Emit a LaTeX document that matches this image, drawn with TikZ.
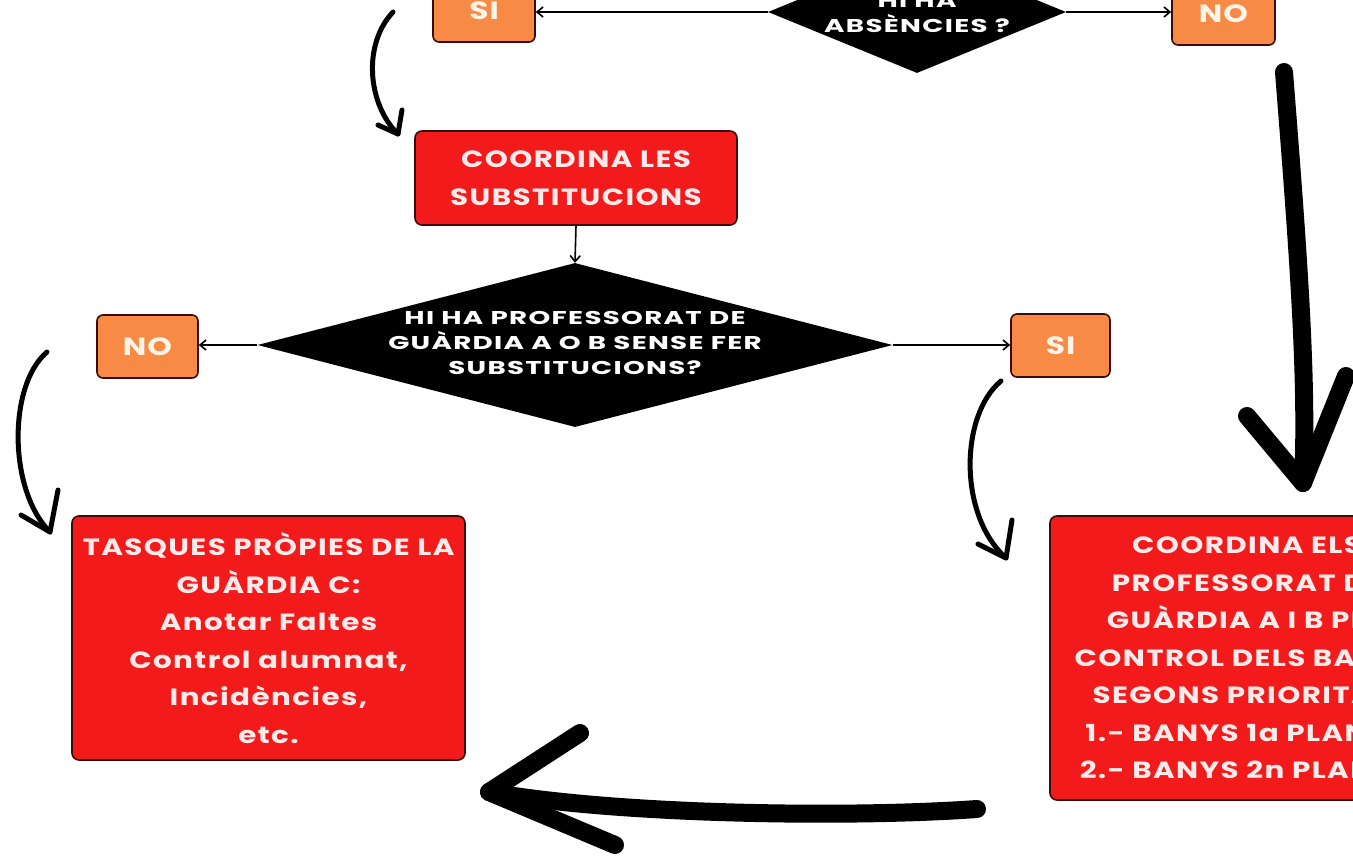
\documentclass[tikz,border=0pt]{standalone}
\usepackage{fontspec}
\setmainfont{Poppins}
\newfontfamily\boxfont{Poppins}[FakeStretch=1.25, LetterSpace=6]
\newfontfamily\diafont{Poppins}[FakeStretch=1.5, LetterSpace=7]
\newfontfamily\orfont{Poppins}[FakeStretch=1.25, LetterSpace=4]
\usetikzlibrary{shapes.geometric,arrows.meta}
\definecolor{boxred}{HTML}{F21A1A}
\definecolor{boxorange}{HTML}{F78A45}
\definecolor{edgecol}{HTML}{3B0A0A}
\definecolor{txtlight}{HTML}{FBEAEA}
\definecolor{txtcream}{HTML}{FFF4E8}
\tikzset{
  redbox/.style={draw=edgecol, line width=1.6pt, fill=boxred, rounded corners=7pt,
    text=txtlight, align=center, inner sep=0pt,
    font={\boxfont\bfseries\fontsize{23.5}{37.5}\selectfont}},
  orbox/.style={draw=edgecol, line width=1.6pt, fill=boxorange, rounded corners=6pt,
    text=txtcream, inner sep=0pt, minimum height=63pt,
    font={\orfont\bfseries\fontsize{25}{30}\selectfont}},
  dia/.style={diamond, fill=black, inner sep=0pt},
  diatext/.style={text=white, align=center, inner sep=0pt,
    font={\diafont\bfseries\fontsize{18.5}{25}\selectfont}},
  link/.style={line width=1.6pt, -{Straight Barb[length=6pt,width=10pt,line width=1.6pt]}},
  handthin/.style={line width=5pt, line cap=round, line join=round},
  marker/.style={line width=18pt, line cap=round, line join=round}
}
\begin{document}
\begin{tikzpicture}[x=1pt,y=-1pt]
\useasboundingbox (0,0) rectangle (1353,865);
\clip (0,0) rectangle (1353,865);
\fill[white] (0,0) rectangle (1353,865);

% top row
\node[dia, minimum width=298pt, minimum height=122pt] (d1) at (917,12) {};
\node[diatext] (t1) at (917,14) {HI HA\\ABSÈNCIES ?};
\node[orbox, minimum width=102pt] (si1) at (484,10.5) {SI};
\node[orbox, minimum width=103pt] (no1) at (1223.5,13.5) {NO};

% coordinate box
\node[redbox, minimum width=322pt, minimum height=94pt] (c1) at (576,178) {COORDINA LES\\SUBSTITUCIONS};

% middle diamond
\node[dia, minimum width=635pt, minimum height=164pt] (d2) at (575,345) {};
\node[diatext] (t2) at (575,343) {HI HA PROFESSORAT DE\\GUÀRDIA A O B SENSE FER\\SUBSTITUCIONS?};
\node[orbox, minimum width=101pt] (no2) at (147.5,346.5) {NO};
\node[orbox, minimum width=99pt] (si2) at (1060.5,345.5) {SI};

% bottom boxes
\node[redbox, minimum width=393pt, minimum height=244pt] (tasq) at (268.5,638)
  {TASQUES PRÒPIES DE LA\\GUÀRDIA C:\\Anotar Faltes\\Control alumnat,\\Incidències,\\etc.};
\node[redbox, minimum width=394pt, minimum height=284pt] (coord) at (1247,658)
  {COORDINA ELS\\PROFESSORAT DE\\GUÀRDIA A I B PER\\CONTROL DELS BANYS\\SEGONS PRIORITAT:\\1.- BANYS 1a PLANTA\\2.- BANYS 2n PLANTA};

% straight connectors
\draw[link] (d1.west) -- (d1.west -| si1.east);
\draw[link] (d1.east) -- (d1.east -| no1.west);
\draw[link] (c1.south) -- (d2.north);
\draw[link] (d2.west) -- (d2.west -| no2.east);
\draw[link] (d2.east) -- (d2.east -| si2.west);

% thin hand-drawn curved arrows
\coordinate (a1s) at (393,12);
\coordinate (a1e) at (398,134);
\coordinate (a1l) at (378,125);
\coordinate (a1r) at (402,110);
\draw[handthin] (a1s) .. controls (362,45) and (368,105) .. (a1e);
\draw[handthin] (a1l) -- (a1e) -- (a1r);
\coordinate (a2s) at (47,352);
\coordinate (a2e) at (50,532);
\coordinate (a2l) at (21,515);
\coordinate (a2r) at (58,490);
\draw[handthin] (a2s) .. controls (8,385) and (8,490) .. (a2e);
\draw[handthin] (a2l) -- (a2e) -- (a2r);
\coordinate (a3s) at (1001,381);
\coordinate (a3e) at (1006,558);
\coordinate (a3l) at (978,544);
\coordinate (a3r) at (1012,520);
\draw[handthin] (a3s) .. controls (960,415) and (958,515) .. (a3e);
\draw[handthin] (a3l) -- (a3e) -- (a3r);

% thick hand-drawn arrows
\coordinate (b1s) at (1284,72);
\coordinate (b1e) at (1303,483);
\coordinate (b1l) at (1247,416);
\coordinate (b1r) at (1346,376);
\draw[marker] (b1s) .. controls (1298,250) and (1308,380) .. (b1e);
\draw[marker] (b1l) -- (b1e) -- (b1r);
\coordinate (b2s) at (977,809);
\coordinate (b2e) at (489,792);
\coordinate (b2u) at (580,733);
\coordinate (b2d) at (615,845);
\draw[marker] (b2s) .. controls (850,818) and (620,815) .. (b2e);
\draw[marker] (b2u) -- (b2e) -- (b2d);
\end{tikzpicture}
\end{document}
